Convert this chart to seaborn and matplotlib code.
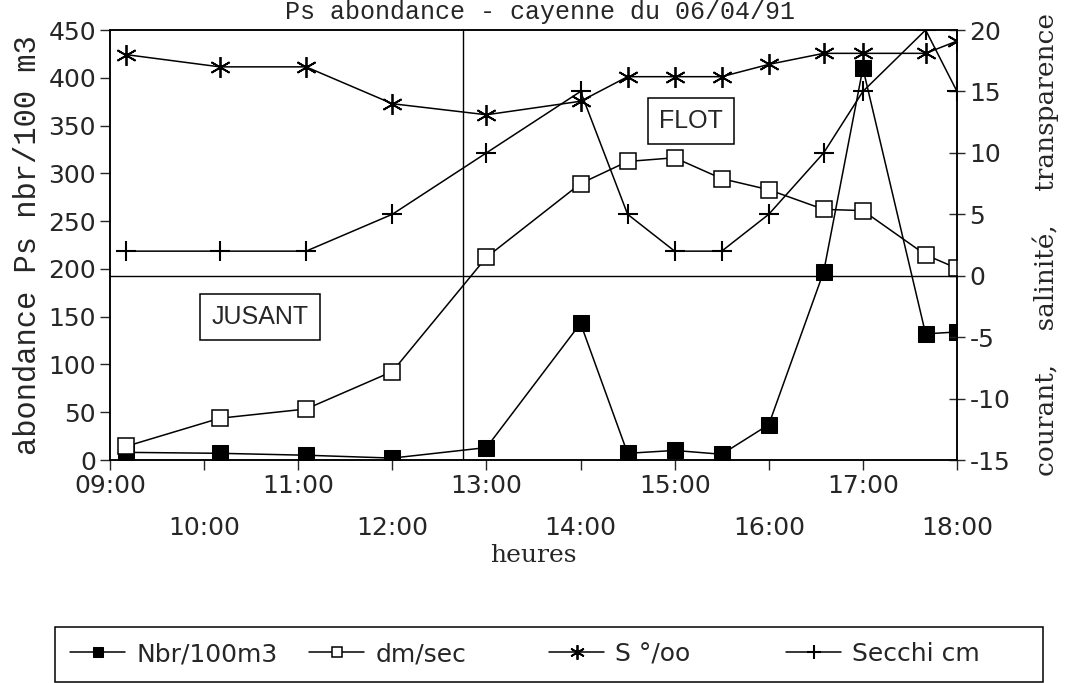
import numpy as np
import matplotlib
matplotlib.use('Agg')
import matplotlib.pyplot as plt
from matplotlib.patches import Rectangle
import seaborn as sns

# heures des prélèvements
heures_txt = ['09:10', '10:10', '11:05', '12:00', '13:00', '14:00', '14:30',
              '15:00', '15:30', '16:00', '16:35', '17:00', '17:40', '18:00']
# abondance Ps (axe gauche)
nbr_100m3 = [8, 7, 5, 2, 13, 143, 7, 10, 6, 37, 197, 410, 132, 134]
# axe droit
dm_sec = [-13.9, -11.6, -10.85, -7.8, 1.5, 7.5, 9.3, 9.6, 7.9, 7.0, 5.4, 5.3, 1.7, 0.6]
salinite = [18.0, 17.0, 17.0, 14.0, 13.1, 14.2, 16.2, 16.2, 16.2, 17.2, 18.1, 18.1, 18.1, 19.1]
secchi_cm = [2, 2, 2, 5, 10, 15, 5, 2, 2, 5, 10, 15, 20, 15]

# renverse du courant (étale)
etale = 12.75

ticks_impairs = ['09:00', '11:00', '13:00', '15:00', '17:00']
ticks_pairs = ['10:00', '12:00', '14:00', '16:00', '18:00']


def en_heures(t):
    h, m = t.split(':')
    return int(h) + int(m) / 60.0


x = np.array([en_heures(t) for t in heures_txt])

sns.set_style('ticks')
plt.rcParams['font.family'] = ['Liberation Mono', 'DejaVu Sans']
plt.rcParams['axes.unicode_minus'] = False
sans = ['DejaVu Sans']
serif = ['DejaVu Serif', 'Liberation Serif']

fig = plt.figure(figsize=(10.77, 6.83), dpi=100)
ax = fig.add_axes([110 / 1077, 1 - 460 / 683, 847 / 1077, 430 / 683])
ax2 = ax.twinx()

lw = 1.1
sns.lineplot(x=x, y=nbr_100m3, ax=ax, color='black', lw=lw, marker='s',
             markersize=11, markerfacecolor='black', markeredgecolor='black',
             label='Nbr/100m3', legend=False)
sns.lineplot(x=x, y=dm_sec, ax=ax2, color='black', lw=lw, marker='s',
             markersize=11, markerfacecolor='white', markeredgecolor='black',
             markeredgewidth=1.1, label='dm/sec', legend=False)
sns.lineplot(x=x, y=salinite, ax=ax2, color='black', lw=lw, marker=(6, 2, 0),
             markersize=15, markeredgecolor='black', markeredgewidth=1.3,
             label='S °/oo', legend=False)
sns.lineplot(x=x, y=secchi_cm, ax=ax2, color='black', lw=lw, marker='+',
             markersize=14, markeredgecolor='black', markeredgewidth=1.5,
             label='Secchi cm', legend=False)

# lignes de repère : zéro du courant et étale
ax2.axhline(0, color='black', lw=1.0)
ax2.axvline(etale, color='black', lw=1.0)

ax.set_xlim(9, 18)
ax.set_ylim(0, 450)
ax2.set_ylim(-15, 20)
ax.set_yticks(np.arange(0, 451, 50))
ax2.set_yticks(np.arange(-15, 21, 5))

ax.set_xticks([en_heures(t) for t in ticks_impairs])
ax.set_xticklabels(ticks_impairs, family=sans, fontsize=18)
ax.set_xticks([en_heures(t) for t in ticks_pairs], minor=True)
ax.set_xticklabels(ticks_pairs, minor=True, family=sans, fontsize=18)
ax.tick_params(axis='x', which='both', direction='out', length=7, width=1, pad=3)
ax.tick_params(axis='x', which='minor', pad=33)
ax.tick_params(axis='y', direction='out', length=7, width=1, pad=3)
ax2.tick_params(axis='y', direction='inout', length=12, width=1, pad=3)
for lab in ax.get_yticklabels() + ax2.get_yticklabels():
    lab.set_family(sans)
    lab.set_fontsize(18)

for a in (ax, ax2):
    for s in a.spines.values():
        s.set_color('black')
        s.set_linewidth(1.1)

ax.set_xlabel('heures', family=serif, fontsize=18, labelpad=3)
ax.set_ylabel('abondance Ps nbr/100 m3', fontsize=22, labelpad=4)
ax2.set_ylabel('courant,    salinité,    transparence', family=serif, fontsize=19,
               labelpad=16, rotation=90)

box = dict(boxstyle='square,pad=0.45', fc='white', ec='black', lw=1.1)
ax.text(0.177, 0.333, 'JUSANT', transform=ax.transAxes, ha='center', va='center',
        family=['Liberation Sans'], fontsize=18, bbox=box)
ax.text(0.686, 0.788, 'FLOT', transform=ax.transAxes, ha='center', va='center',
        family=['Liberation Sans'], fontsize=18, bbox=box)

# titre (coupé en haut dans l'original)
fig.text(0.501, 1 - 19 / 683, 'Ps abondance - cayenne du 06/04/91',
         ha='center', va='baseline', fontsize=18)

# légende : une entrée par position, cadre commun
h1, l1 = ax.get_legend_handles_labels()
h2, l2 = ax2.get_legend_handles_labels()
x_entrees = [70, 309, 549, 786]
for h, lab, x0 in zip(h1 + h2, l1 + l2, x_entrees):
    fig.legend([h], [lab], loc='center left',
               bbox_to_anchor=(x0 / 1077, 1 - 654 / 683),
               frameon=False, handlelength=2.2, handletextpad=0.45,
               borderpad=0, borderaxespad=0, markerscale=0.7,
               prop={'family': sans, 'size': 18})
fig.add_artist(Rectangle((55 / 1077, 1 / 683), 988 / 1077, 55 / 683,
                         transform=fig.transFigure, fill=False,
                         edgecolor='black', lw=1.1))

fig.savefig('out.png', dpi=100)
